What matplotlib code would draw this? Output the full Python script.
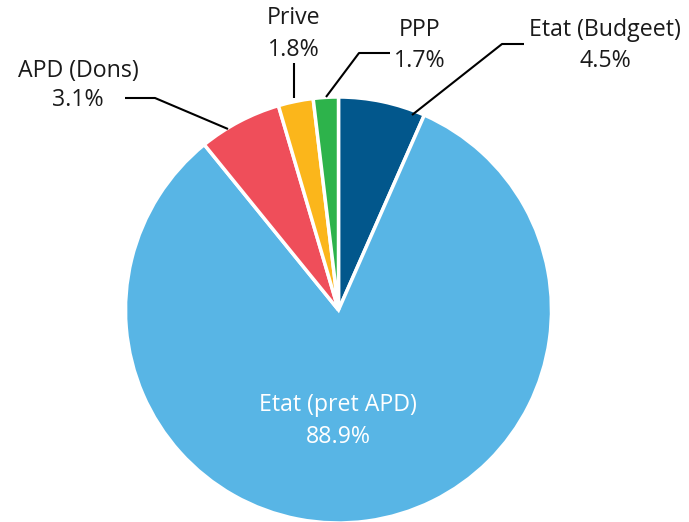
import matplotlib.pyplot as plt

# slices clockwise from 12 o'clock
labels = ['Etat (Budgeet)', 'Etat (pret APD)', 'APD (Dons)', 'Prive', 'PPP']
pct_text = ['4.5%', '88.9%', '3.1%', '1.8%', '1.7%']
# slice sizes as drawn in the picture (percent of the circle)
shares = [6.6, 82.55, 6.3, 2.65, 1.9]
colors = ['#02578C', '#58B5E5', '#EF4E5A', '#FBB61B', '#2DB34B']

H = 522


def fy(y):
    # pixel row (from top) -> data y
    return H - y


def main():
    plt.rcParams['font.family'] = ['Open Sans', 'DejaVu Sans']
    fig = plt.figure(figsize=(6.89, 5.22), dpi=100)
    ax = fig.add_axes([0, 0, 1, 1])

    ax.pie(shares, colors=colors, startangle=90, counterclock=False,
           center=(338.5, fy(310)), radius=213,
           wedgeprops=dict(edgecolor='white', linewidth=2.5))

    ax.set_xlim(0, 689)
    ax.set_ylim(0, H)
    ax.set_aspect('equal')
    ax.axis('off')

    # outside labels: (name xy, pct xy, leader path)
    outside = {
        'Etat (Budgeet)': ((605, 30), (605, 61), [(412, 115), (502, 44), (524, 44)]),
        'APD (Dons)': ((78, 71), (78, 100), [(125, 98), (155, 98), (228, 129)]),
        'Prive': ((294, 18), (294, 50), [(294, 63), (294, 98)]),
        'PPP': ((420, 30), (420, 61), [(326, 97), (359, 53), (390, 53)]),
    }
    fs = 16.7
    for i, name in enumerate(labels):
        if name in outside:
            (nx, ny), (px, py), path = outside[name]
            ax.text(nx, fy(ny), name, ha='center', va='center', fontsize=fs, color='#1a1a1a')
            ax.text(px, fy(py), pct_text[i], ha='center', va='center', fontsize=fs, color='#1a1a1a')
            ax.plot([p[0] for p in path], [fy(p[1]) for p in path], color='black', lw=1.5,
                    solid_capstyle='butt')
        else:
            ax.text(338, fy(405), name, ha='center', va='center', fontsize=fs, color='white')
            ax.text(338, fy(437), pct_text[i], ha='center', va='center', fontsize=fs, color='white')

    fig.savefig('out.png', dpi=100)


if __name__ == '__main__':
    main()
